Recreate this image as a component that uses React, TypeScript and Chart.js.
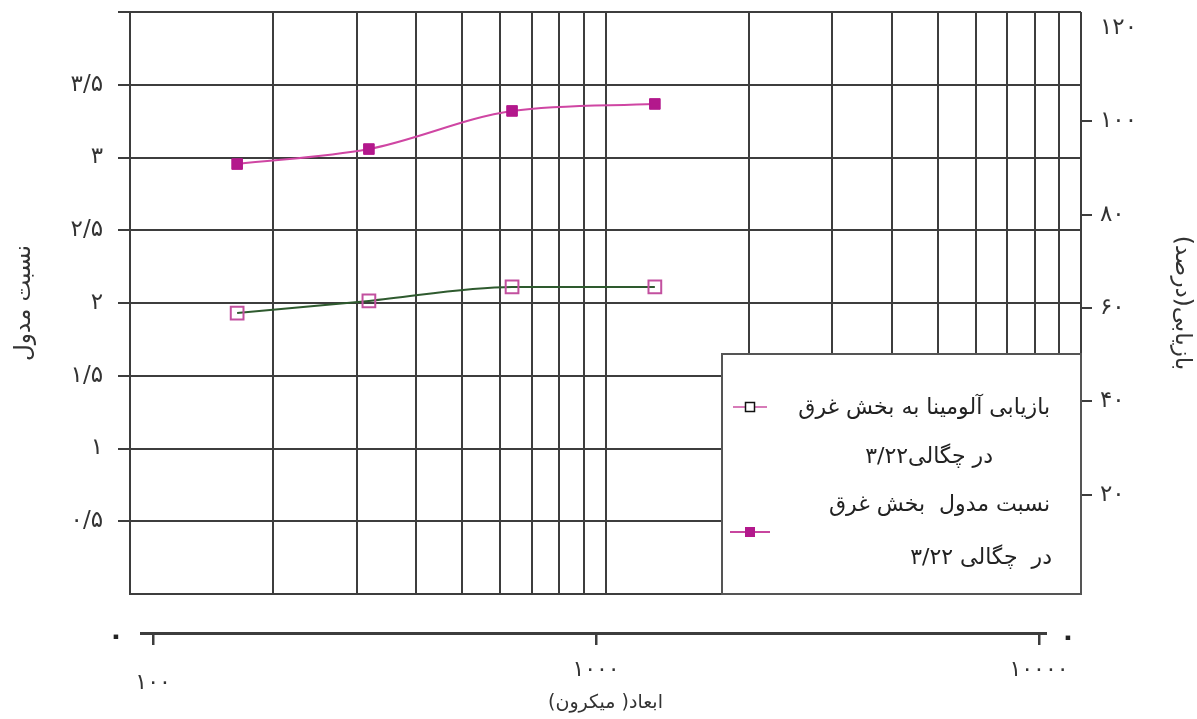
import React, { useEffect, useRef } from 'react';
import { Chart, registerables } from 'chart.js';

Chart.register(...registerables);

// ---- data ----
const sizes = [168, 318, 636, 1270];
const modulusRatio = [2.955, 3.058, 3.32, 3.368];
const recovery = [58.9, 61.5, 64.5, 64.5];

const gridValues = [100, 200, 300, 400, 500, 600, 700, 800, 900, 1000, 2000, 3000, 4000, 5000, 6000, 7000, 8000, 9000, 10000];
const leftTicks = [0, 0.5, 1, 1.5, 2, 2.5, 3, 3.5, 4];
const leftTickLabels = ['', '۰/۵', '۱', '۱/۵', '۲', '۲/۵', '۳', '۳/۵', ''];
const rightTicks = [20, 40, 60, 80, 100, 120];
const rightTickLabels = ['۲۰', '۴۰', '۶۰', '۸۰', '۱۰۰', '۱۲۰'];
const bottomTicks = [100, 1000, 10000];
const bottomTickLabels = ['۱۰۰', '۱۰۰۰', '۱۰۰۰۰'];
const legendLabels = [
  ['بازیابی آلومینا به بخش غرق', 'در چگالی۳/۲۲'],
  ['نسبت مدول  بخش غرق', 'در  چگالی ۳/۲۲'],
];
const leftTitle = 'نسبت مدول';
const rightTitle = 'بازیابی(درصد)';
const bottomTitle = 'ابعاد( میکرون)';
const zeroLabel = '۰';

const FONT = '"DejaVu Sans", sans-serif';
const GRID = '#3d3d3d';
const TEXT = '#333333';

const zeroPad = (s: any) => {
  s.paddingTop = 0;
  s.paddingBottom = 0;
  s.paddingLeft = 0;
  s.paddingRight = 0;
};

const extrasPlugin = {
  id: 'extras',
  afterDraw(chart: any) {
    const ctx = chart.ctx as CanvasRenderingContext2D;
    const ca = chart.chartArea;
    const x2 = chart.scales.x2;
    ctx.save();
    // bottom axis line
    ctx.strokeStyle = GRID;
    ctx.lineWidth = 3;
    ctx.beginPath();
    ctx.moveTo(ca.left + 10, x2.top + 0.5);
    ctx.lineTo(ca.right - 34, x2.top + 0.5);
    ctx.stroke();
    // zero marks
    ctx.fillStyle = '#222222';
    ctx.font = `bold 26px ${FONT}`;
    ctx.textAlign = 'center';
    ctx.textBaseline = 'middle';
    ctx.fillText(zeroLabel, ca.left - 14, x2.top + 4);
    ctx.fillText(zeroLabel, ca.right - 13, x2.top + 5);

    // legend box
    const w = 359, h = 240;
    const left = ca.right - w;
    const top = ca.bottom - h;
    ctx.fillStyle = '#ffffff';
    ctx.fillRect(left, top, w, h);
    ctx.strokeStyle = '#555555';
    ctx.lineWidth = 2;
    ctx.strokeRect(left, top, w, h);

    // marker 1
    let my = top + 53;
    ctx.strokeStyle = '#d77bb8';
    ctx.lineWidth = 2;
    ctx.beginPath();
    ctx.moveTo(left + 11, my);
    ctx.lineTo(left + 45, my);
    ctx.stroke();
    ctx.fillStyle = '#ffffff';
    ctx.fillRect(left + 23.5, my - 4.5, 9, 9);
    ctx.strokeStyle = '#111111';
    ctx.lineWidth = 1.5;
    ctx.strokeRect(left + 23.5, my - 4.5, 9, 9);

    // marker 2
    my = top + 178;
    ctx.strokeStyle = '#c8469f';
    ctx.lineWidth = 2;
    ctx.beginPath();
    ctx.moveTo(left + 8, my);
    ctx.lineTo(left + 48, my);
    ctx.stroke();
    ctx.fillStyle = '#b3188c';
    ctx.fillRect(left + 23, my - 5, 10, 10);

    // legend text
    ctx.fillStyle = '#222222';
    ctx.font = `22px ${FONT}`;
    (ctx as any).direction = 'rtl';
    ctx.textAlign = 'right';
    ctx.textBaseline = 'middle';
    ctx.fillText(legendLabels[0][0], left + 328, top + 54);
    ctx.fillText(legendLabels[0][1], left + 271, top + 103);
    ctx.fillText(legendLabels[1][0], left + 328, top + 151);
    ctx.fillText(legendLabels[1][1], left + 330, top + 204);
    ctx.restore();
  },
};

export default function App() {
  const canvasRef = useRef<HTMLCanvasElement | null>(null);

  useEffect(() => {
    document.body.style.margin = '0';
    const canvas = canvasRef.current;
    if (!canvas) return;

    const chart = new Chart(canvas, {
      type: 'line',
      data: {
        datasets: [
          {
            label: legendLabels[0].join(' '),
            data: sizes.map((x, i) => ({ x, y: recovery[i] })),
            xAxisID: 'x',
            yAxisID: 'y2',
            borderColor: '#2e5a2e',
            borderWidth: 2,
            cubicInterpolationMode: 'monotone',
            pointStyle: 'rect',
            pointRadius: 9,
            pointBorderWidth: 2,
            pointBorderColor: '#c2509f',
            pointBackgroundColor: 'rgba(255,255,255,0)',
          },
          {
            label: legendLabels[1].join(' '),
            data: sizes.map((x, i) => ({ x, y: modulusRatio[i] })),
            xAxisID: 'x',
            yAxisID: 'y',
            borderColor: '#cf46a3',
            borderWidth: 2,
            cubicInterpolationMode: 'monotone',
            pointStyle: 'rect',
            pointRadius: 7.5,
            pointBorderWidth: 1,
            pointBorderColor: '#b3188c',
            pointBackgroundColor: '#b3188c',
          },
        ],
      },
      options: {
        responsive: false,
        animation: false,
        events: [],
        layout: { padding: { top: 12, left: 0, right: 0, bottom: 0 } },
        plugins: {
          legend: { display: false },
          tooltip: { enabled: false },
        },
        scales: {
          x: {
            type: 'logarithmic',
            position: 'bottom',
            weight: 0,
            min: 100,
            max: 10000,
            afterBuildTicks: (s: any) => {
              s.ticks = gridValues.map((v) => ({ value: v }));
            },
            afterFit: (s: any) => {
              s.height = 39;
              zeroPad(s);
            },
            ticks: { display: false, autoSkip: false },
            grid: { color: GRID, lineWidth: 2, drawTicks: false },
            border: { display: true, color: GRID, width: 2 },
          },
          x2: {
            type: 'logarithmic',
            position: 'bottom',
            weight: 1,
            min: 88.7,
            max: 12440,
            afterBuildTicks: (s: any) => {
              s.ticks = bottomTicks.map((v) => ({ value: v }));
            },
            afterFit: (s: any) => {
              s.height = 86;
              zeroPad(s);
            },
            grid: { drawOnChartArea: false, drawTicks: true, tickLength: 12, color: GRID, lineWidth: 2.5 },
            border: { display: false },
            ticks: {
              autoSkip: false,
              maxRotation: 0,
              padding: 12,
              color: TEXT,
              font: (c: any) => ({ family: FONT, size: 22, lineHeight: c.index === 0 ? 2.4 : 1.2 }),
              callback: (_v: any, i: number) => bottomTickLabels[i],
            },
            title: {
              display: true,
              text: bottomTitle,
              color: TEXT,
              font: { family: FONT, size: 19 },
              padding: { top: 0, bottom: 5 },
            },
          },
          y: {
            type: 'linear',
            position: 'left',
            min: 0,
            max: 4,
            afterBuildTicks: (s: any) => {
              s.ticks = leftTicks.map((v) => ({ value: v }));
            },
            afterFit: (s: any) => {
              s.width = 130;
              zeroPad(s);
            },
            grid: {
              color: GRID,
              lineWidth: 2,
              tickLength: 12,
              tickColor: (c: any) => (c.tick && c.tick.value === 0 ? 'rgba(0,0,0,0)' : GRID),
            },
            border: { display: true, color: GRID, width: 2 },
            ticks: {
              autoSkip: false,
              padding: 15,
              color: TEXT,
              font: { family: FONT, size: 23 },
              callback: (_v: any, i: number) => leftTickLabels[i],
            },
            title: {
              display: true,
              text: leftTitle,
              color: TEXT,
              font: { family: FONT, size: 23 },
              padding: { top: 10, bottom: 0 },
            },
          },
          y2: {
            type: 'linear',
            position: 'right',
            min: -1.3,
            max: 123.4,
            afterBuildTicks: (s: any) => {
              s.ticks = rightTicks.map((v) => ({ value: v }));
            },
            afterFit: (s: any) => {
              s.width = 116;
              zeroPad(s);
            },
            grid: {
              drawOnChartArea: false,
              tickLength: 11,
              lineWidth: 2,
              color: GRID,
              tickColor: (c: any) => (c.tick && c.tick.value === 120 ? 'rgba(0,0,0,0)' : GRID),
            },
            border: { display: false },
            ticks: {
              autoSkip: false,
              padding: 8,
              color: TEXT,
              font: { family: FONT, size: 23 },
              callback: (_v: any, i: number) => rightTickLabels[i],
            },
            title: {
              display: true,
              text: rightTitle,
              color: TEXT,
              font: { family: FONT, size: 23 },
              padding: { top: 1, bottom: 0 },
            },
          },
        },
      } as any,
      plugins: [extrasPlugin],
    });

    return () => chart.destroy();
  }, []);

  return (
    <div style={{ position: 'fixed', left: 0, top: 0, width: 1197, height: 719, background: '#ffffff' }}>
      <canvas ref={canvasRef} width={1197} height={719} dir="rtl" style={{ display: 'block' }} />
    </div>
  );
}
